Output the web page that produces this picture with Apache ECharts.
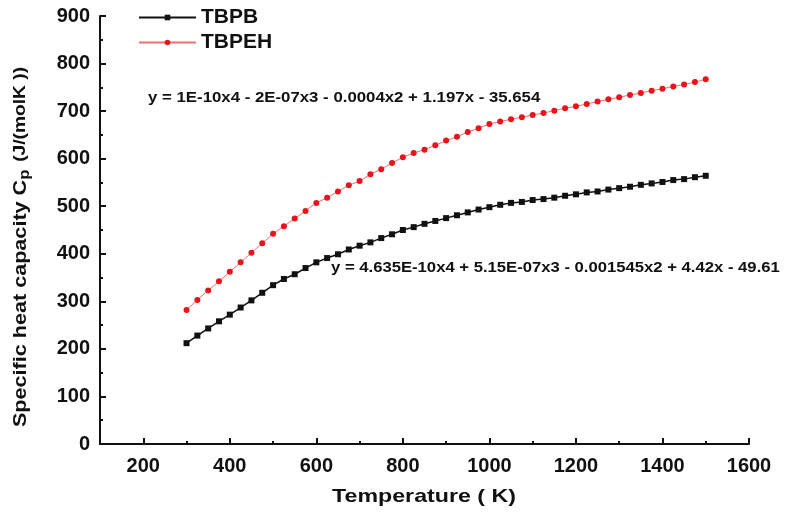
<!DOCTYPE html>
<html>
<head>
<meta charset="utf-8">
<script src="https://cdn.jsdelivr.net/npm/echarts@6/dist/echarts.min.js"></script>
<style>
html,body{margin:0;padding:0;background:#fff;}
#chart{width:790px;height:512px;}
</style>
</head>
<body>
<div id="chart"></div>
<script>
// Temperature (K)
const temps = [300,325,350,375,400,425,450,475,500,525,550,575,600,625,650,675,700,725,750,775,800,825,850,875,900,925,950,975,1000,1025,1050,1075,1100,1125,1150,1175,1200,1225,1250,1275,1300,1325,1350,1375,1400,1425,1450,1475,1500];
const tbpb = [212,228,243,258,272,287,302,318,334,347,357,370,382,391,399,409,417,424,433,441,450,456,463,469,475,481,487,493,498,503,507,509,513,515,518,522,525,529,531,535,538,541,545,548,551,555,557,561,564];
const tbpeh = [282,303,323,342,362,382,402,422,442,458,474,490,507,518,531,544,553,567,578,591,603,612,619,628,638,646,656,664,673,678,683,687,692,696,701,706,710,715,720,725,729,734,738,743,747,752,756,761,767];
const seriesNames = ['TBPB','TBPEH'];
const xMajorTicks = [200,400,600,800,1000,1200,1400,1600];
const xMinorTicks = [300,500,700,900,1100,1300,1500];
const eqTBPEH = 'y = 1E-10x4 - 2E-07x3 - 0.0004x2 + 1.197x - 35.654';
const eqTBPB = 'y = 4.635E-10x4 + 5.15E-07x3 - 0.001545x2 + 4.42x - 49.61';
const xTitle = 'Temperature ( K)';

const chart = echarts.init(document.getElementById('chart'));
const font = 'Liberation Sans, Arial, sans-serif';
const pairs = (ys) => temps.map((t, i) => [t, ys[i]]);

chart.setOption({
  animation: false,
  backgroundColor: '#fff',
  textStyle: {fontFamily: font},
  grid: {left: 100, right: 41, top: 16, bottom: 68},
  legend: {
    orient: 'vertical', left: 133, top: 2,
    itemWidth: 57, itemHeight: 7, itemGap: 4,
    textStyle: {fontSize: 21, fontWeight: 'bold', color: '#111', fontFamily: font},
    data: seriesNames
  },
  xAxis: [{
    type: 'value', min: 100, max: 1600, interval: 100,
    axisLine: {show: true, lineStyle: {color: '#111', width: 2}},
    axisTick: {show: true, inside: true, length: 6, customValues: xMajorTicks, lineStyle: {color: '#111', width: 2}},
    axisLabel: {customValues: xMajorTicks, formatter: (v) => String(v), fontSize: 20, fontWeight: 'bold', color: '#111', margin: 12, fontFamily: font},
    splitLine: {show: false}
  }, {
    type: 'value', min: 100, max: 1600, interval: 100, position: 'bottom',
    axisLine: {show: false},
    axisTick: {show: true, inside: true, length: 3, customValues: xMinorTicks, lineStyle: {color: '#111', width: 2}},
    axisLabel: {show: false},
    splitLine: {show: false}
  }],
  yAxis: {
    type: 'value', min: 0, max: 900, interval: 100,
    axisLine: {show: true, lineStyle: {color: '#111', width: 2}},
    axisTick: {show: true, inside: true, length: 6, lineStyle: {color: '#111', width: 2}},
    minorTick: {show: true, splitNumber: 2, length: 3, lineStyle: {color: '#111', width: 2}},
    axisLabel: {fontSize: 20, fontWeight: 'bold', color: '#111', margin: 10, fontFamily: font},
    splitLine: {show: false}
  },
  graphic: [
    {
      type: 'text', x: 21, y: 247, rotation: Math.PI / 2, scaleX: 1.2,
      style: {
        text: '{a|Specific heat capacity C}{s|p}{b| (J/(molK ))}',
        align: 'center', verticalAlign: 'middle',
        rich: {
          a: {fontSize: 18, fontWeight: 'bold', fill: '#111', fontFamily: font},
          s: {fontSize: 14, fontWeight: 'bold', fill: '#111', fontFamily: font, verticalAlign: 'bottom', padding: [8,2,0,0]},
          b: {fontSize: 16, fontWeight: 'bold', fill: '#111', fontFamily: font}
        }
      }
    },
    {
      type: 'text', x: 424, y: 497, scaleX: 1.22,
      style: {text: xTitle, align: 'center', verticalAlign: 'middle', fontSize: 19, fontWeight: 'bold', fill: '#111', fontFamily: font}
    },
    {
      type: 'text', x: 148, y: 98, scaleX: 1.2,
      style: {text: eqTBPEH, verticalAlign: 'middle', fontSize: 14, fontWeight: 'bold', fill: '#111', fontFamily: font}
    },
    {
      type: 'text', x: 331, y: 268, scaleX: 1.19,
      style: {text: eqTBPB, verticalAlign: 'middle', fontSize: 14, fontWeight: 'bold', fill: '#111', fontFamily: font}
    }
  ],
  series: [{
    name: seriesNames[0], type: 'line', xAxisIndex: 0,
    data: pairs(tbpb),
    symbol: 'rect', symbolSize: 6,
    lineStyle: {color: '#111', width: 1.5},
    itemStyle: {color: '#111'}
  }, {
    name: seriesNames[1], type: 'line', xAxisIndex: 0,
    data: pairs(tbpeh),
    symbol: 'circle', symbolSize: 6,
    lineStyle: {color: '#f07070', width: 1},
    itemStyle: {color: '#e8141b'}
  }]
});
</script>
</body>
</html>
